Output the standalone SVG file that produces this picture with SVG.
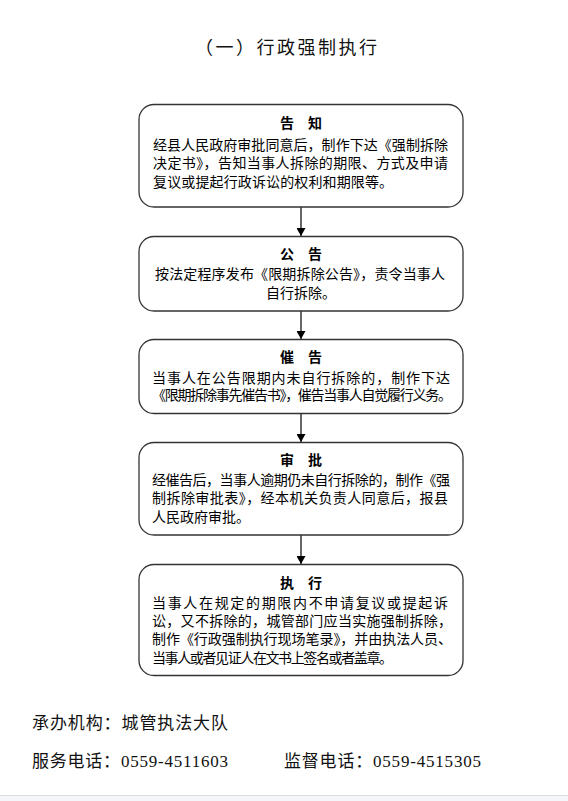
<svg xmlns="http://www.w3.org/2000/svg" width="568" height="801" viewBox="0 0 568 801">
<style>
.box{fill:#fff;stroke:#333;stroke-width:1.3}
.t{font-family:"Noto Sans CJK SC","Noto Sans",sans-serif;font-size:14px;fill:#000}
.h{font-family:"Noto Sans CJK SC",sans-serif;font-size:14px;font-weight:bold;fill:#000;text-anchor:middle}
.s{font-family:"Liberation Serif","Noto Sans CJK SC",serif;fill:#111}
.c{stroke:#000;stroke-width:1.2;fill:none}
</style>
<defs>
<marker id="arr" viewBox="0 0 8 9" refX="8" refY="4.5" markerWidth="8" markerHeight="9" markerUnits="userSpaceOnUse" orient="auto">
<path d="M0,0 L8,4.5 L0,9 z" fill="#000"/>
</marker>
</defs>
<rect width="568" height="801" fill="#fff"/>
<text class="s" x="195" y="54" font-size="18" textLength="182" lengthAdjust="spacing">（一）行政强制执行</text>

<g id="connectors">
<line class="c" x1="301" y1="207" x2="301" y2="236" marker-end="url(#arr)"/>
<line class="c" x1="301" y1="311" x2="301" y2="339" marker-end="url(#arr)"/>
<line class="c" x1="301" y1="414" x2="301" y2="442" marker-end="url(#arr)"/>
<line class="c" x1="301" y1="535" x2="301" y2="564" marker-end="url(#arr)"/>
</g>

<g id="n1">
<rect class="box" x="139" y="104.5" width="324" height="102.5" rx="15"/>
<text class="h" x="301" y="128">告　知</text>
<text class="t" x="153" y="150" textLength="295" lengthAdjust="spacing">经县人民政府审批同意后，制作下达《强制拆除</text>
<text class="t" x="153" y="168" textLength="295" lengthAdjust="spacing">决定书》，告知当事人拆除的期限、方式及申请</text>
<text class="t" x="153" y="187" textLength="240" lengthAdjust="spacing">复议或提起行政诉讼的权利和期限等。</text>
</g>

<g id="n2">
<rect class="box" x="139" y="236.5" width="324" height="74.5" rx="15"/>
<text class="h" x="301" y="259">公　告</text>
<text class="t" x="155" y="279" textLength="290" lengthAdjust="spacing">按法定程序发布《限期拆除公告》，责令当事人</text>
<text class="t" x="301" y="298" text-anchor="middle">自行拆除。</text>
</g>

<g id="n3">
<rect class="box" x="139" y="339.5" width="324" height="74" rx="15"/>
<text class="h" x="301" y="362">催　告</text>
<text class="t" x="152" y="383" textLength="298" lengthAdjust="spacing">当事人在公告限期内未自行拆除的，制作下达</text>
<text class="t" x="152" y="399.5" font-size="12" textLength="300" lengthAdjust="spacing">《限期拆除事先催告书》，催告当事人自觉履行义务。</text>
</g>

<g id="n4">
<rect class="box" x="139" y="442.5" width="324" height="92.5" rx="15"/>
<text class="h" x="301" y="465">审　批</text>
<text class="t" x="152" y="485" textLength="298" lengthAdjust="spacing">经催告后，当事人逾期仍未自行拆除的，制作《强</text>
<text class="t" x="152" y="503" textLength="296" lengthAdjust="spacing">制拆除审批表》，经本机关负责人同意后，报县</text>
<text class="t" x="152" y="522">人民政府审批。</text>
</g>

<g id="n5">
<rect class="box" x="139" y="564.5" width="324" height="111" rx="15"/>
<text class="h" x="301" y="588">执　行</text>
<text class="t" x="152" y="608" textLength="296" lengthAdjust="spacing">当事人在规定的期限内不申请复议或提起诉</text>
<text class="t" x="152" y="626" textLength="300" lengthAdjust="spacing">讼，又不拆除的，城管部门应当实施强制拆除，</text>
<text class="t" x="152" y="644" textLength="300" lengthAdjust="spacing">制作《行政强制执行现场笔录》，并由执法人员、</text>
<text class="t" x="152" y="663" textLength="241" lengthAdjust="spacing">当事人或者见证人在文书上签名或者盖章。</text>
</g>

<text class="s" x="32" y="729" font-size="17" textLength="196" lengthAdjust="spacing">承办机构：城管执法大队</text>
<text class="s" x="32" y="767" font-size="17" textLength="196" lengthAdjust="spacing">服务电话：0559-4511603</text>
<text class="s" x="284" y="767" font-size="17" textLength="197" lengthAdjust="spacing">监督电话：0559-4515305</text>

<rect x="0" y="795" width="568" height="6" fill="#f5f6f9"/>
<line x1="0" y1="795.5" x2="568" y2="795.5" stroke="#dcdde2" stroke-width="1"/>
</svg>
